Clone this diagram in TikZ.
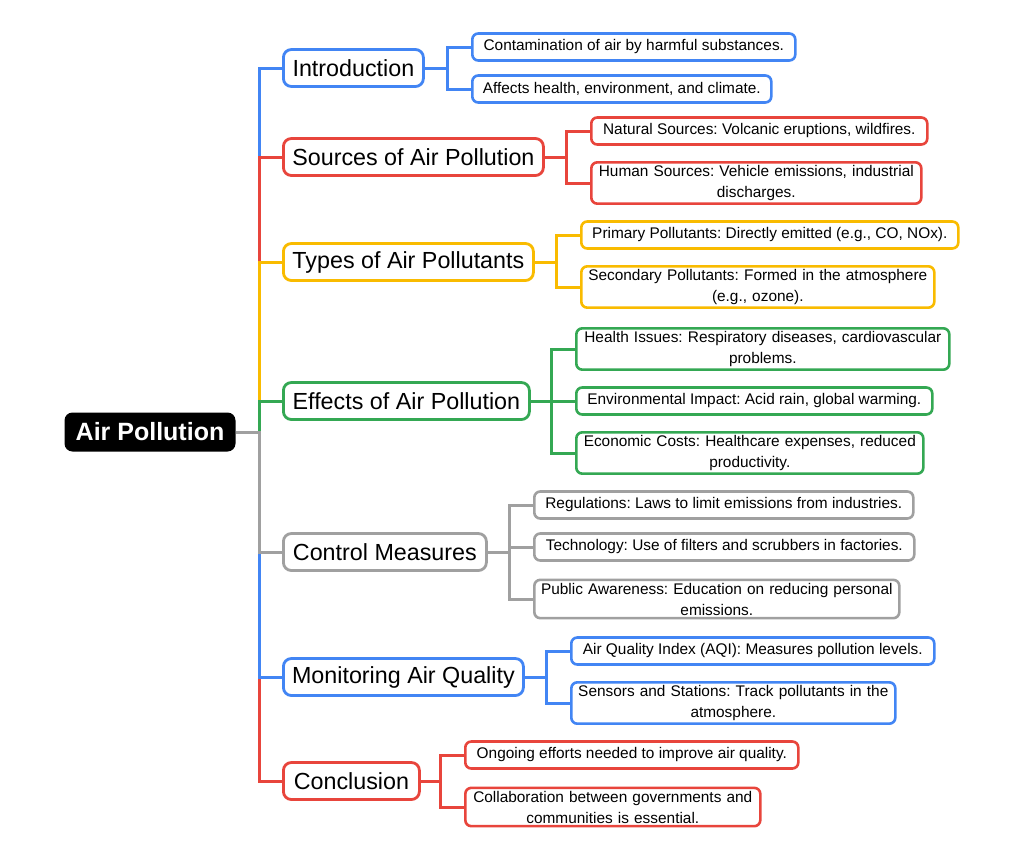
\documentclass[tikz,border=0pt]{standalone}
\usepackage{fontspec}
\setmainfont{Liberation Sans}
\frenchspacing
\definecolor{cb}{HTML}{4285F4}
\definecolor{cr}{HTML}{E8453C}
\definecolor{cy}{HTML}{F9BB00}
\definecolor{cg}{HTML}{34A853}
\definecolor{cx}{HTML}{A0A0A0}
\begin{document}
\begin{tikzpicture}[x=1pt,y=-1pt,
  br/.style={draw=#1,line width=2.8pt,rounded corners=8pt,fill=white,anchor=west,minimum height=37pt,inner xsep=4pt,font=\fontsize{23.3}{26}\selectfont},
  lf/.style={draw=#1,line width=2.6pt,rounded corners=6pt,fill=white,anchor=west,align=center,inner xsep=4pt,inner ysep=3pt,minimum height=27pt,font=\fontsize{15.4}{21}\selectfont},
  cn/.style={draw=#1,line width=3pt}]
\useasboundingbox (0,0) rectangle (1024,865);
\node[fill=black,text=white,rounded corners=8pt,minimum width=171pt,minimum height=39pt,font=\fontsize{25}{28}\selectfont\bfseries] (root) at (150,432) {Air Pollution};
\coordinate (T) at (259,432);
% branches
\node[br=cb,minimum width=140pt] (b1) at (282,68) {Introduction};
\node[br=cr,minimum width=260pt] (b2) at (282,157) {Sources of Air Pollution};
\node[br=cy,minimum width=250pt] (b3) at (282,262) {Types of Air Pollutants};
\node[br=cg,minimum width=246pt] (b4) at (282,401) {Effects of Air Pollution};
\node[br=cx,minimum width=203pt] (b5) at (282,552) {Control Measures};
\node[br=cb,minimum width=240pt] (b6) at (282,677) {Monitoring Air Quality};
\node[br=cr,minimum width=136pt] (b7) at (282,781) {Conclusion};
% leaves
\node[lf=cb,minimum width=323pt] (l11) at (471,47) {Contamination of air by harmful substances.};
\node[lf=cb,minimum width=299pt] (l12) at (471,89) {Affects health, environment, and climate.};
\node[lf=cr,minimum width=336pt] (l21) at (590,131) {Natural Sources: Volcanic eruptions, wildfires.};
\node[lf=cr,text width=322pt] (l22) at (590,183) {Human Sources: Vehicle emissions, industrial\\discharges.};
\node[lf=cy,minimum width=377pt] (l31) at (580,235) {Primary Pollutants: Directly emitted (e.g., CO, NOx).};
\node[lf=cy,text width=345pt] (l32) at (580,287) {Secondary Pollutants: Formed in the atmosphere\\(e.g., ozone).};
\node[lf=cg,text width=365pt] (l41) at (575,349) {Health Issues: Respiratory diseases, cardiovascular\\problems.};
\node[lf=cg,minimum width=356pt] (l42) at (575,401) {Environmental Impact: Acid rain, global warming.};
\node[lf=cg,text width=339pt] (l43) at (575,453) {Economic Costs: Healthcare expenses, reduced\\productivity.};
\node[lf=cx,minimum width=379pt] (l51) at (533,505) {Regulations: Laws to limit emissions from industries.};
\node[lf=cx,minimum width=380pt] (l52) at (533,547) {Technology: Use of filters and scrubbers in factories.};
\node[lf=cx,text width=357pt] (l53) at (533,599) {Public Awareness: Education on reducing personal\\emissions.};
\node[lf=cb,minimum width=363pt] (l61) at (570,651) {Air Quality Index (AQI): Measures pollution levels.};
\node[lf=cb,text width=316pt] (l62) at (570,703) {Sensors and Stations: Track pollutants in the\\atmosphere.};
\node[lf=cr,minimum width=333pt] (l71) at (464,755) {Ongoing efforts needed to improve air quality.};
\node[lf=cr,text width=287pt] (l72) at (464,807) {Collaboration between governments and\\communities is essential.};
% trunk connectors
\draw[cn=cb] (root.east) -- (T) |- (b1.west);
\draw[cn=cr] (T) |- (b2.west);
\draw[cn=cy] (T) |- (b3.west);
\draw[cn=cg] (T) |- (b4.west);
\draw[cn=cr] (T) |- (b7.west);
\draw[cn=cb] (T) |- (b6.west);
\draw[cn=cx] (root.east) -- (T) |- (b5.west);
% leaf connectors
\coordinate (j1) at (447,68);
\coordinate (j2) at (566,157);
\coordinate (j3) at (556,262);
\coordinate (j4) at (551,401);
\coordinate (j5) at (509,552);
\coordinate (j6) at (546,677);
\coordinate (j7) at (440,781);
\draw[cn=cb] (b1.east) -- (j1) |- (l11.west); \draw[cn=cb] (j1) |- (l12.west);
\draw[cn=cr] (b2.east) -- (j2) |- (l21.west); \draw[cn=cr] (j2) |- (l22.west);
\draw[cn=cy] (b3.east) -- (j3) |- (l31.west); \draw[cn=cy] (j3) |- (l32.west);
\draw[cn=cg] (b4.east) -- (j4) |- (l41.west); \draw[cn=cg] (j4) |- (l42.west); \draw[cn=cg] (j4) |- (l43.west);
\draw[cn=cx] (b5.east) -- (j5) |- (l51.west); \draw[cn=cx] (j5) |- (l52.west); \draw[cn=cx] (j5) |- (l53.west);
\draw[cn=cb] (b6.east) -- (j6) |- (l61.west); \draw[cn=cb] (j6) |- (l62.west);
\draw[cn=cr] (b7.east) -- (j7) |- (l71.west); \draw[cn=cr] (j7) |- (l72.west);
\end{tikzpicture}
\end{document}
